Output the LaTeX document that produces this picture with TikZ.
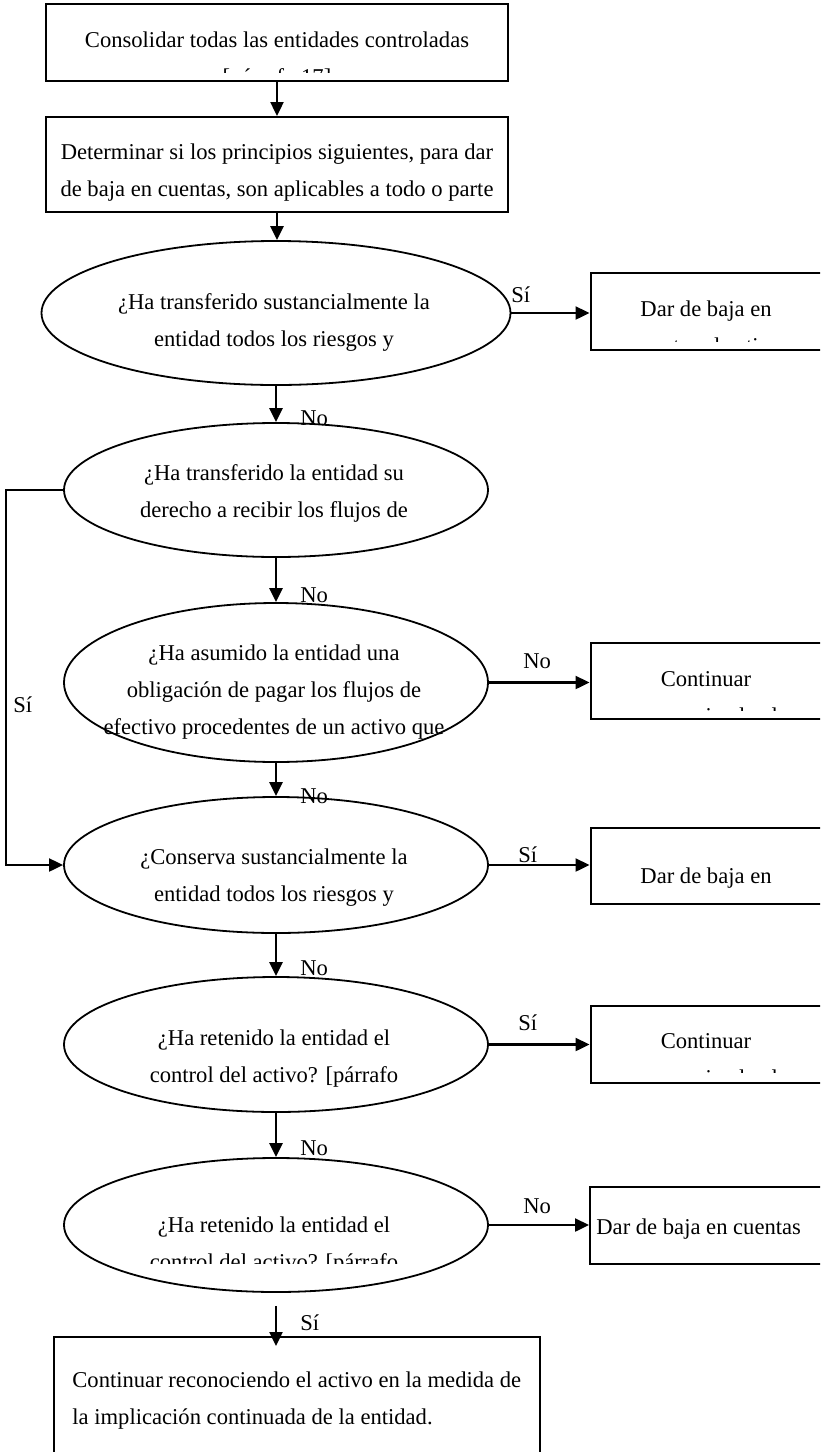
\documentclass[tikz,border=0pt]{standalone}
\usepackage{fontspec}
\setmainfont{Liberation Serif}
\usetikzlibrary{positioning,arrows.meta,shapes.geometric}

\begin{document}
\begin{tikzpicture}[x=0.5pt,y=-0.5pt,font=\fontsize{11.3pt}{18.5pt}\selectfont]
 \tikzset{arrow/.style={line width=1.2pt,-{Triangle[length=7pt,width=6.5pt]}},
  box/.style={draw,line width=1pt,inner sep=0pt},
  cond/.style={draw,ellipse,line width=0.9pt,inner sep=0pt,minimum width=212pt},
  txt/.style={inner sep=0pt,align=center,anchor=base},
  lbl/.style={inner sep=0pt,anchor=base west}}
 \clip (0,0) rectangle (820,1452);

 % cajas y preguntas
 \node[box,minimum width=231pt,minimum height=38.5pt] (cons) at (277,42.5) {};
 \node[box,minimum width=231pt,minimum height=47.5pt] (det) at (277,164.5) {};
 \node[cond,minimum width=234.5pt,minimum height=72pt] (q1) at (276,313) {};
 \node[cond,minimum height=67pt] (q2) at (276,490) {};
 \node[cond,minimum height=79.5pt] (q3) at (276,682.5) {};
 \node[cond,minimum height=68pt] (q4) at (276,865) {};
 \node[cond,minimum height=67.5pt] (q5) at (276,1044.5) {};
 \node[cond,minimum height=67pt] (q6) at (276,1225) {};
 \node[box,minimum width=120pt,minimum height=38.5pt] (baja1) at (710.5,311.5) {};
 \node[box,minimum width=120pt,minimum height=38pt] (cont1) at (710.5,681) {};
 \node[box,minimum width=120pt,minimum height=38pt] (baja2) at (710.5,866) {};
 \node[box,minimum width=120pt,minimum height=38.5pt] (cont2) at (710.5,1044.5) {};
 \node[box,minimum width=120pt,minimum height=38.5pt] (baja3) at (710,1225.5) {};
 \node[box,minimum width=243pt,minimum height=68pt] (impl) at (297,1405) {};

 % textos (base = ultima linea; los cuadros cortan lo que no cabe)
 \begin{scope}
  \clip (46,4) rectangle (508,72);
  \node[txt] (cons-t) at (277,84) {Consolidar todas las entidades controladas\\{[}párrafo 17]};
 \end{scope}
 \node[txt] (det-t) at (277,196) {Determinar si los principios siguientes, para dar\\de baja en cuentas, son aplicables a todo o parte};
 \node[txt] (q1-t) at (274,346) {¿Ha transferido sustancialmente la\\entidad todos los riesgos y};
 \node[txt] (q2-t) at (274,517) {¿Ha transferido la entidad su\\derecho a recibir los flujos de};
 \node[txt] (q3-t) at (274,734) {¿Ha asumido la entidad una\\obligación de pagar los flujos de\\efectivo procedentes de un activo que};
 \node[txt] (q4-t) at (274,901) {¿Conserva sustancialmente la\\entidad todos los riesgos y};
 \node[txt] (q5-t) at (274,1082) {¿Ha retenido la entidad el\\control del activo? [párrafo};
 \begin{scope}
  \clip (64,1158) rectangle (486,1263);
  \node[txt] (q6-t) at (274,1269) {¿Ha retenido la entidad el\\control del activo? [párrafo};
 \end{scope}
 \begin{scope}
  \clip (590,273) rectangle (830,341);
  \node[txt] (baja1-t) at (706,353) {Dar de baja en\\cuentas el activo};
 \end{scope}
 \begin{scope}
  \clip (591,643) rectangle (830,710.5);
  \node[txt] (cont1-t) at (706,723) {Continuar\\reconociendo el};
 \end{scope}
 \node[txt] (baja2-t) at (706,883) {Dar de baja en};
 \begin{scope}
  \clip (591,1006) rectangle (830,1072);
  \node[txt] (cont2-t) at (706,1085) {Continuar\\reconociendo el};
 \end{scope}
 \node[lbl] (baja3-t) at (596,1234) {Dar de baja en cuentas};
 \node[lbl,align=left] (impl-t) at (72,1424) {Continuar reconociendo el activo en la medida de\\la implicación continuada de la entidad.};

 % flechas
 \draw[arrow] (cons.south) -- (det.north);
 \draw[arrow] (det.south) -- (det.south |- q1.north);
 \draw[arrow] (q1.south) -- (q2.north);
 \draw[arrow] (q2.south) -- (q3.north);
 \draw[arrow] (q3.south) -- (q4.north);
 \draw[arrow] (q4.south) -- (q5.north);
 \draw[arrow] (q5.south) -- (q6.north);
 \draw[arrow,shorten <=6.5pt,shorten >=-5pt] (q6.south) -- (q6.south |- impl.north);
 \draw[arrow] (q1.east) -- (q1.east -| baja1.west);
 \draw[arrow] (q3.east) -- (q3.east -| cont1.west);
 \draw[arrow] (q4.east) -- (q4.east -| baja2.west);
 \draw[arrow] (q5.east) -- (q5.east -| cont2.west);
 \draw[arrow] (q6.east) -- (q6.east -| baja3.west);
 \coordinate (izq) at (6,490);
 \draw[arrow,line width=1pt] (q2.west) -- (izq) |- (q4.west);

 % etiquetas
 \node[lbl] (s1) at (511,302) {Sí};
 \node[lbl] (n1) at (300,425) {No};
 \node[lbl] (n2) at (300,602) {No};
 \node[lbl] (n3) at (523,668) {No};
 \node[lbl] (s2) at (13,712) {Sí};
 \node[lbl] (n4) at (300,803) {No};
 \node[lbl] (s3) at (518,862) {Sí};
 \node[lbl] (n5) at (300,975) {No};
 \node[lbl] (s4) at (518,1030) {Sí};
 \node[lbl] (n6) at (300,1155) {No};
 \node[lbl] (n7) at (523,1213) {No};
 \node[lbl] (s5) at (300,1330) {Sí};
\end{tikzpicture}
\end{document}
